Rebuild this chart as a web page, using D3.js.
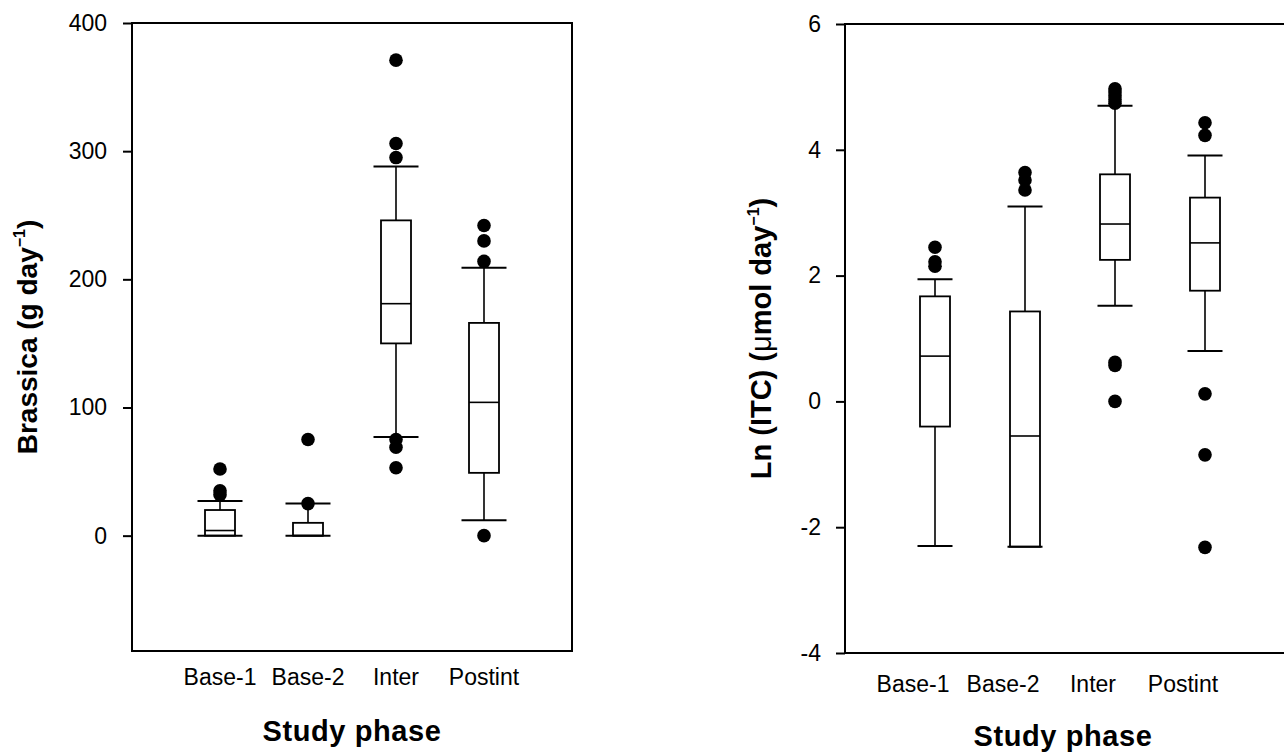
<!DOCTYPE html>
<html>
<head>
<meta charset="utf-8">
<script src="https://cdn.jsdelivr.net/npm/d3@7"></script>
<style>
  body { margin: 0; background: #fff; }
  text { font-family: "Liberation Sans", Arial, sans-serif; fill: #000; }
</style>
</head>
<body>
<script>
const phases = ['Base-1', 'Base-2', 'Inter', 'Postint']

// left panel: Brassica (g/day)
const brQ1 = [0, 0, 150, 49]
const brMed = [4, 0, 181, 104]
const brQ3 = [20, 10, 246, 166]
const brLo = [0, 0, 77, 12]
const brHi = [27, 25, 288, 209]
const brOut = [[52, 35, 32], [75, 25], [371, 306, 295, 75, 69, 53], [242, 230, 214, 0]]
const brTicks = [0, 100, 200, 300, 400]

// right panel: Ln(ITC) (umol/day)
const itQ1 = [-0.40, -2.31, 2.25, 1.76]
const itMed = [0.72, -0.55, 2.82, 2.52]
const itQ3 = [1.67, 1.43, 3.61, 3.24]
const itLo = [-2.30, -2.31, 1.52, 0.80]
const itHi = [1.94, 3.10, 4.70, 3.91]
const itOut = [[2.45, 2.22, 2.15], [3.64, 3.52, 3.36], [4.97, 4.92, 4.86, 4.80, 4.74, 0.62, 0.57, 0.0], [4.43, 4.23, 0.12, -0.85, -2.32]]
const itTicks = [-4, -2, 0, 2, 4, 6]

const svg = d3.select('body').append('svg')
  .attr('width', 1284)
  .attr('height', 752)

function panel (cfg) {
  const g = svg.append('g')
  const x = d3.scaleLinear().domain([0, 5]).range([cfg.left, cfg.left + 5 * cfg.step])
  const y = d3.scaleLinear().domain(cfg.yDomain).range([cfg.bottom, cfg.top])

  g.append('g')
    .attr('transform', `translate(${cfg.left},0)`)
    .call(d3.axisLeft(y).tickValues(cfg.ticks).tickSize(9).tickPadding(cfg.pad).tickFormat(d => String(d)))
    .call(a => a.select('.domain').remove())
    .call(a => a.selectAll('line').attr('stroke-width', 2))
    .call(a => a.selectAll('text').attr('font-size', 23).attr('font-family', '"Liberation Sans", Arial, sans-serif'))

  g.append('rect')
    .attr('x', cfg.left).attr('y', cfg.top)
    .attr('width', 5 * cfg.step).attr('height', cfg.bottom - cfg.top)
    .attr('fill', 'none').attr('stroke', '#000').attr('stroke-width', 2)

  const boxes = g.selectAll('.box')
    .data(phases.map((p, i) => ({
      i: i, q1: cfg.q1[i], med: cfg.med[i], q3: cfg.q3[i], lo: cfg.lo[i], hi: cfg.hi[i], out: cfg.out[i]
    })))
    .enter().append('g')

  const bw = cfg.boxW / 2
  const cw = cfg.capW / 2
  boxes.append('line')
    .attr('x1', d => x(d.i + 1)).attr('x2', d => x(d.i + 1))
    .attr('y1', d => y(d.lo)).attr('y2', d => y(d.hi))
    .attr('stroke', '#000').attr('stroke-width', 1.6)
  boxes.append('rect')
    .attr('x', d => x(d.i + 1) - bw).attr('width', cfg.boxW)
    .attr('y', d => y(d.q3)).attr('height', d => y(d.q1) - y(d.q3))
    .attr('fill', '#fff').attr('stroke', '#000').attr('stroke-width', 1.8)
  boxes.append('line')
    .attr('x1', d => x(d.i + 1) - bw).attr('x2', d => x(d.i + 1) + bw)
    .attr('y1', d => y(d.med)).attr('y2', d => y(d.med))
    .attr('stroke', '#000').attr('stroke-width', 1.6)
  boxes.selectAll('.cap')
    .data(d => [{ i: d.i, v: d.lo }, { i: d.i, v: d.hi }])
    .enter().append('line')
    .attr('x1', d => x(d.i + 1) - cw).attr('x2', d => x(d.i + 1) + cw)
    .attr('y1', d => y(d.v)).attr('y2', d => y(d.v))
    .attr('stroke', '#000').attr('stroke-width', 2)
  boxes.selectAll('circle')
    .data(d => d.out.map(v => ({ i: d.i, v: v })))
    .enter().append('circle')
    .attr('cx', d => x(d.i + 1)).attr('cy', d => y(d.v))
    .attr('r', 6.8).attr('fill', '#000')

  g.selectAll('.xl')
    .data(phases)
    .enter().append('text')
    .attr('x', (d, i) => x(i + 1) + cfg.labelShift)
    .attr('y', cfg.labelY)
    .attr('text-anchor', 'middle')
    .attr('font-size', 23)
    .text(d => d)

  g.append('text')
    .attr('x', cfg.titleX).attr('y', cfg.titleY)
    .attr('text-anchor', 'middle')
    .attr('font-size', 29).attr('font-weight', 'bold')
    .attr('letter-spacing', 0.6)
    .text('Study phase')

  const yt = g.append('text')
    .attr('transform', `translate(${cfg.yTitleX},${(cfg.top + cfg.bottom) / 2}) rotate(-90)`)
    .attr('text-anchor', 'middle')
    .attr('font-size', cfg.yTitleSize).attr('font-weight', 'bold')
  cfg.yTitle(yt)
}

panel({
  left: 132, step: 88, top: 23, bottom: 651,
  yDomain: [-90, 400], ticks: brTicks, pad: 16,
  q1: brQ1, med: brMed, q3: brQ3, lo: brLo, hi: brHi, out: brOut,
  boxW: 30, capW: 45, labelShift: 0, labelY: 685,
  titleX: 352, titleY: 741, yTitleX: 37, yTitleSize: 28,
  yTitle: t => {
    t.append('tspan').text('Brassica (g day')
    t.append('tspan').attr('font-size', 16).attr('dy', -12).text('\u22121')
    t.append('tspan').attr('dy', 12).text(')')
  }
})

panel({
  left: 845, step: 90, top: 24, bottom: 653,
  yDomain: [-4, 6], ticks: itTicks, pad: 15,
  q1: itQ1, med: itMed, q3: itQ3, lo: itLo, hi: itHi, out: itOut,
  boxW: 30, capW: 35, labelShift: -22, labelY: 692,
  titleX: 1063, titleY: 746, yTitleX: 771, yTitleSize: 29,
  yTitle: t => {
    t.append('tspan').text('Ln (ITC) (')
    t.append('tspan').attr('font-weight', 'normal').text('\u03bc')
    t.append('tspan').text('mol day')
    t.append('tspan').attr('font-size', 16).attr('dy', -12).text('\u22121')
    t.append('tspan').attr('dy', 12).text(')')
  }
})
</script>
</body>
</html>
